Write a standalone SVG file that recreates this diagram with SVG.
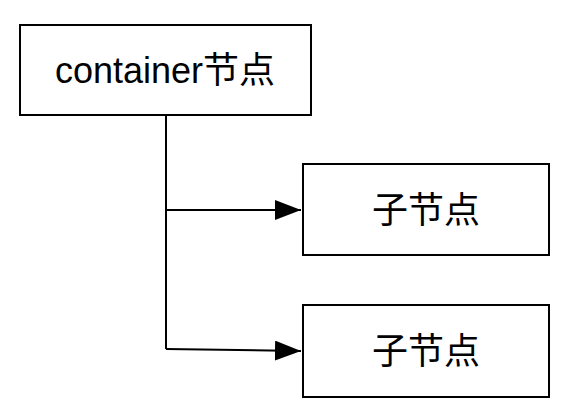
<svg xmlns="http://www.w3.org/2000/svg" width="572" height="420" viewBox="0 0 572 420">
<style>
.box{fill:#fff;stroke:#000;stroke-width:2}
.lbl{font-family:"Liberation Sans","Noto Sans CJK SC",sans-serif;font-size:36px;fill:#000;text-anchor:middle}
.conn{fill:none;stroke:#000;stroke-width:2}
</style>
<defs>
<marker id="arr" markerWidth="26" markerHeight="20" refX="26" refY="10" orient="auto" markerUnits="userSpaceOnUse">
<path d="M0,0 L26,10 L0,20 Z" fill="#000"/>
</marker>
</defs>
<rect width="572" height="420" fill="#fff"/>
<g id="container">
<rect class="box" x="20" y="25" width="291" height="90"/>
<text class="lbl" x="165" y="83">container节点</text>
</g>
<g id="child1">
<rect class="box" x="303" y="164" width="246" height="91"/>
<text class="lbl" x="426" y="223">子节点</text>
</g>
<g id="child2">
<rect class="box" x="303" y="305" width="246" height="92"/>
<text class="lbl" x="426" y="364">子节点</text>
</g>
<g id="connectors">
<path class="conn" d="M166,115 L166,349"/>
<path class="conn" d="M166,210 L301,210" marker-end="url(#arr)"/>
<path class="conn" d="M166,349 L301,351" marker-end="url(#arr)"/>
</g>
</svg>
